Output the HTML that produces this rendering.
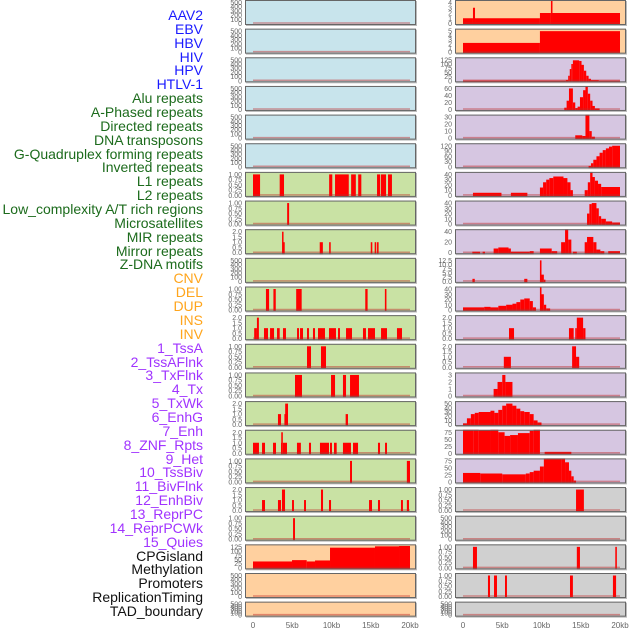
<!DOCTYPE html>
<html><head><meta charset="utf-8"><style>
html,body{margin:0;padding:0;background:#fff;}
body{width:630px;height:630px;overflow:hidden;position:relative;font-family:"Liberation Sans",sans-serif;}
#labels div{position:absolute;right:427px;font-size:14px;line-height:14px;white-space:nowrap;}
svg{position:absolute;left:0;top:0;}
</style></head><body>
<div id="labels"></div>
<svg id="chart" width="630" height="630"></svg>
<script>
const trackNames = ["AAV2","EBV","HBV","HIV","HPV","HTLV-1","Alu repeats","A-Phased repeats","Directed repeats","DNA transposons","G-Quadruplex forming repeats","Inverted repeats","L1 repeats","L2 repeats","Low_complexity A/T rich regions","Microsatellites","MIR repeats","Mirror repeats","Z-DNA motifs","CNV","DEL","DUP","INS","INV","1_TssA","2_TssAFlnk","3_TxFlnk","4_Tx","5_TxWk","6_EnhG","7_Enh","8_ZNF_Rpts","9_Het","10_TssBiv","11_BivFlnk","12_EnhBiv","13_ReprPC","14_ReprPCWk","15_Quies","CPGisland","Methylation","Promoters","ReplicationTiming","TAD_boundary"];
const trackGroups = ["v","v","v","v","v","v","r","r","r","r","r","r","r","r","r","r","r","r","r","s","s","s","s","s","c","c","c","c","c","c","c","c","c","c","c","c","c","c","c","o","o","o","o","o"];
const xTickValues = [0,5,10,15,20];
const xTickLabels = ["0","5kb","10kb","15kb","20kb"];
const ticksEmpty = [0,100,200,300,400,500];
const ticksUnit = [0,0.25,0.5,0.75,1.0];
const ticksTwo = [0,0.5,1.0,1.5,2.0];
// left column panels: [start kb, end kb, value]
const L6 = [[0,0.9,1],[3.4,3.95,1],[9.7,10.1,1],[10.45,12.2,1],[12.5,13.1,1],[13.4,13.8,1],[15.8,16.2,1],[16.3,16.95,1],[17.2,17.7,1]];
const L7 = [[4.35,4.6,1]];
const L8 = [[3.7,3.85,2],[3.85,4.0,1],[8.5,8.9,1],[9.7,9.9,1],[15.0,15.2,1],[15.5,15.7,1],[15.8,16.0,1]];
const L10 = [[1.65,2.05,1],[2.6,2.9,1],[5.5,6.2,1],[14.3,14.6,1],[16.8,17.0,1]];
const L11 = [[0.15,0.5,1],[0.5,0.75,2],[1.4,1.91,1],[2.17,2.68,1],[3.06,3.4,1],[3.82,4.2,1],[5.61,5.86,1],[5.99,6.37,1],[6.88,7.13,1],[7.64,7.9,1],[8.28,9.17,1],[9.68,10.57,1],[10.83,11.08,1],[11.85,12.61,1],[14.01,14.39,1],[14.65,15.54,1],[16.31,17.07,1],[18.34,18.98,1]];
const L12 = [[6.88,7.39,1],[8.66,9.3,1]];
const L13 = [[5.35,6.24,1],[9.94,10.45,1],[11.46,11.85,1],[12.36,13.5,1]];
const L14 = [[3.18,3.57,1],[4.0,4.1,1],[4.1,4.46,2],[11.8,12.1,1]];
const L15 = [[0,0.76,1],[1.15,1.53,1],[2.55,2.93,1],[3.57,3.6,1],[3.6,3.8,2],[3.8,4.33,1],[5.6,6.1,1],[7.13,7.39,1],[8.53,9.68,1],[9.81,10.06,1],[10.32,10.66,1],[11.46,12.48,1],[12.74,13.38,1],[15.92,16.18,1],[16.82,17.07,1]];
const L16 = [[12.36,12.61,1],[19.6,20.0,1]];
const L17 = [[1.15,1.53,1],[3.18,3.57,1],[3.69,4.08,2],[4.97,5.22,1],[6.5,6.75,1],[8.66,8.92,2],[9.68,9.94,1],[14.78,15.16,1],[15.92,16.18,1],[18.85,19.1,1],[19.6,19.87,1]];
const L18 = [[5.1,5.35,1]];
const L19 = [[0,4.97,38],[4.97,6.84,46],[6.84,7.9,38],[7.9,9.81,44],[9.81,15.54,120],[15.54,18.6,128],[18.6,20.0,130]];
// right column panels
const R0 = [[0,1.27,1],[1.27,1.53,3],[1.53,9.8,1],[9.8,11.2,2],[11.2,11.4,5],[11.4,20.0,2]];
const R1 = [[0,9.8,2.2],[9.8,20.0,5]];
const R2 = [[0,13.1,1],[13.1,13.4,5],[13.4,13.6,30],[13.6,13.8,70],[13.8,14.0,100],[14.0,14.8,122],[14.8,15.1,118],[15.1,15.4,95],[15.4,15.7,60],[15.7,16.0,30],[16.0,16.3,12],[16.3,17.3,4],[17.3,20,1]];
const R3 = [[12.9,13.2,5],[13.2,13.5,25],[13.5,14.0,60],[14.0,14.3,20],[14.3,14.6,4],[14.6,14.9,8],[14.9,15.3,35],[15.3,15.6,55],[15.6,15.9,70],[15.9,16.2,45],[16.2,16.5,25],[16.5,16.8,10],[16.8,17.4,3]];
const R4 = [[14.3,15.2,4],[15.2,15.6,3],[15.6,16.1,37],[16.1,16.4,10],[16.4,16.8,2]];
const R5 = [[16.0,16.3,5],[16.3,16.6,20],[16.6,17.0,40],[17.0,17.4,60],[17.4,17.8,80],[17.8,18.2,95],[18.2,18.6,105],[18.6,19.0,115],[19.0,20.0,120]];
const R6 = [[1.27,4.9,5],[6.1,8.2,5],[9.8,10.2,15],[10.2,10.6,25],[10.6,11.0,30],[11.0,11.5,33],[11.5,12.8,36],[12.8,13.3,33],[13.3,13.7,25],[13.7,14.0,10],[15.5,15.9,10],[15.9,16.2,25],[16.2,16.5,45],[16.5,16.8,35],[16.8,17.2,28],[17.2,17.6,22],[17.6,20.0,16]];
const R7 = [[15.8,16.1,20],[16.1,16.4,38],[16.4,17.0,40],[17.0,17.3,30],[17.3,17.6,15],[17.6,18.2,10],[18.2,19.0,5],[19.0,20.0,3]];
const R8 = [[1.19,2.17,2],[2.5,2.8,2],[3.9,4.5,8],[4.5,5.8,10],[5.8,6.1,8],[6.1,8.5,2],[8.5,9.0,3],[9.8,11.3,8],[11.3,12.0,3],[12.5,13.0,20],[13.0,13.4,50],[13.4,13.8,25],[14.0,14.5,2],[15.5,15.8,20],[15.8,16.6,30],[16.6,17.0,20],[17.0,17.5,6],[17.5,18.0,3],[18.5,20.0,3]];
const R9 = [[1.2,1.5,1.5],[7.8,8.2,1.5],[9.8,10.0,12.5],[10.0,10.3,4],[10.3,10.5,1]];
const R10 = [[0,2.7,5],[2.7,3.5,6],[3.5,4.5,5],[4.5,5.5,8],[5.5,6.3,10],[6.3,6.8,12],[6.8,7.3,15],[7.3,7.8,20],[7.8,8.5,22],[8.5,8.9,17],[8.9,9.3,5],[9.8,10.0,45],[10.0,10.3,30],[10.3,10.6,10],[10.6,11.1,3]];
const R11 = [[5.86,6.5,1],[13.5,14.1,1],[14.3,14.5,1],[14.5,15.3,2],[15.3,15.6,1]];
const R12 = [[5.2,6.1,1],[13.9,14.4,2],[14.4,14.8,1]];
const R13 = [[3.9,4.4,1],[4.4,5.0,2],[5.0,5.4,3],[5.4,6.3,2]];
const R14 = [[0,0.5,3],[0.5,1.0,15],[1.0,1.5,25],[1.5,2.0,28],[2.0,3.5,30],[3.5,4.0,33],[4.0,4.5,28],[4.5,5.0,35],[5.0,5.5,45],[5.5,6.3,50],[6.3,6.8,45],[6.8,7.3,38],[7.3,7.8,32],[7.8,8.5,30],[8.5,9.0,25],[9.0,9.5,10],[9.5,10.0,5]];
const R15 = [[0,1.3,95],[1.3,2.0,85],[2.0,3.5,82],[3.5,4.5,85],[4.5,5.3,75],[5.3,6.0,62],[6.0,7.0,65],[7.0,8.5,72],[8.5,9.0,80],[9.0,9.8,95],[10.4,13.8,5]];
const R16 = [[0,2.2,32],[2.2,5.0,30],[5.0,8.0,27],[8.0,8.5,30],[8.5,9.0,35],[9.0,9.8,40],[9.8,10.3,55],[10.3,10.7,85],[10.7,12.5,95],[12.5,13.0,90],[13.0,13.5,70],[13.5,13.8,40],[13.8,14.1,20],[14.1,14.4,5]];
const R17 = [[14.4,15.4,1]];
const R19 = [[1.27,1.78,1],[14.5,14.9,1],[19.4,19.6,1]];
const R20 = [[3.18,3.44,1],[3.95,4.33,1],[5.35,5.6,1],[13.63,14.0,1],[19.1,19.5,1]];

const B='#c8e4ec',G='#c9e2a4',O='#ffd09f',P='#d6c6e1',Y='#d0d0d0';
const leftCol = [
 [B,ticksEmpty,[]],[B,ticksEmpty,[]],[B,ticksEmpty,[]],[B,ticksEmpty,[]],[B,ticksEmpty,[]],[B,ticksEmpty,[]],
 [G,ticksUnit,L6],[G,ticksUnit,L7],[G,ticksTwo,L8],[G,ticksEmpty,[]],[G,ticksUnit,L10],[G,ticksTwo,L11],
 [G,ticksUnit,L12],[G,ticksUnit,L13],[G,ticksTwo,L14],[G,ticksTwo,L15],[G,ticksUnit,L16],[G,ticksTwo,L17],[G,ticksUnit,L18],
 [O,[0,25,50,75,100,125],L19],[O,ticksEmpty,[]],[O,ticksEmpty,[]]];
const rightCol = [
 [O,[0,1,2,3,4],R0],[O,[0,1,2,3,4,5],R1],[P,[0,25,50,75,100,125],R2],[P,[0,20,40,60],R3],[P,[0,10,20,30],R4],[P,[0,30,60,90,120],R5],
 [P,[0,10,20,30,40],R6],[P,[0,10,20,30,40],R7],[P,[0,20,40],R8],[P,[0,2.5,5,7.5,10,12.5],R9],[P,[0,10,20,30,40],R10],
 [P,ticksTwo,R11],[P,ticksTwo,R12],[P,[0,1,2,3],R13],[P,[0,10,20,30,40,50],R14],[P,[0,25,50,75],R15],[P,[0,25,50,75],R16],
 [Y,ticksUnit,R17],[Y,ticksEmpty,[]],[Y,ticksUnit,R19],[Y,ticksUnit,R20],[Y,ticksEmpty,[]]];

const groupColor = {v:'#1a1aff',r:'#1c6b1c',s:'#ffa51c',c:'#a033ff',o:'#111'};
const labelsDiv = document.getElementById('labels');
trackNames.forEach((n,i)=>{
  const d=document.createElement('div');
  
  
  d.textContent=n; d.style.color=groupColor[trackGroups[i]];
  d.style.top=(8+i*13.86)+'px';
  labelsDiv.appendChild(d);
});

const NS='http://www.w3.org/2000/svg';
const svg=document.getElementById('chart');
function mk(tag,attrs,parent){const e=document.createElementNS(NS,tag);for(const k in attrs)e.setAttribute(k,attrs[k]);(parent||svg).appendChild(e);return e;}
const PW=171, KB=7.85, PITCH=28.65;
function fmt(t,ticks){const dec=ticks.some(v=>v%1!==0);if(!dec)return String(t);const two=ticks.some(v=>Math.round(v*100)%10!==0);return two?t.toFixed(2):t.toFixed(1);}
function drawPanel(colLeft,row,spec,side){
  const [bg,ticks,segs]=spec;
  const top=Math.max(0,row*PITCH), H=(row===21?15:25);
  const g=mk('g',{});
  
  
  const clipId='c'+side+row;
  const cp=mk('clipPath',{id:clipId},g); mk('rect',{x:colLeft,y:top,width:PW,height:H},cp);
  mk('rect',{x:colLeft+1,y:top+1,width:PW,height:H,fill:'#bbb'},g);
  mk('rect',{x:colLeft,y:top,width:PW,height:H,fill:bg},g);
  const x0=colLeft+8, yb=top+H-1.5, yt=top+2.5;
  const ymax=ticks[ticks.length-1];
  const xs=v=>x0+v*KB, ys=v=>yb-(v/ymax)*(yb-yt);
  const mg=mk('g',{'clip-path':'url(#'+clipId+')'},g);
  segs.forEach(s=>{
    const r=mk('rect',{x:xs(s[0]),y:ys(s[2]),width:Math.max(1.5,xs(s[1])-xs(s[0])),height:yb-ys(s[2])+1.5,fill:'#ff0000'},mg);
    
    
  });
  mk('line',{x1:xs(0),x2:xs(20),y1:yb-0.5,y2:yb-0.5,stroke:'rgba(190,40,40,0.45)','stroke-width':1.5},mg);
  mk('rect',{x:colLeft+0.5,y:top+0.5,width:PW-1,height:H-1,fill:'none',stroke:'#666','stroke-width':1},g);
  ticks.forEach(t=>{
    const tx=mk('text',{x:colLeft-3,y:ys(t)+2.5,'text-anchor':'end','font-size':7,fill:'#666','font-family':'Liberation Sans, sans-serif'},g);
    
    
    tx.textContent=fmt(t,ticks);
  });
}
leftCol.forEach((s,i)=>drawPanel(245,i,s,'left'));
rightCol.forEach((s,i)=>drawPanel(455,i,s,'right'));
[245,455].forEach(cl=>{
  xTickValues.forEach((v,i)=>{
    const t=mk('text',{x:cl+8+v*KB,y:628,'text-anchor':'middle','font-size':8,fill:'#666','font-family':'Liberation Sans, sans-serif'});
    
    
    t.textContent=xTickLabels[i];
  });
});
</script>
</body></html>
